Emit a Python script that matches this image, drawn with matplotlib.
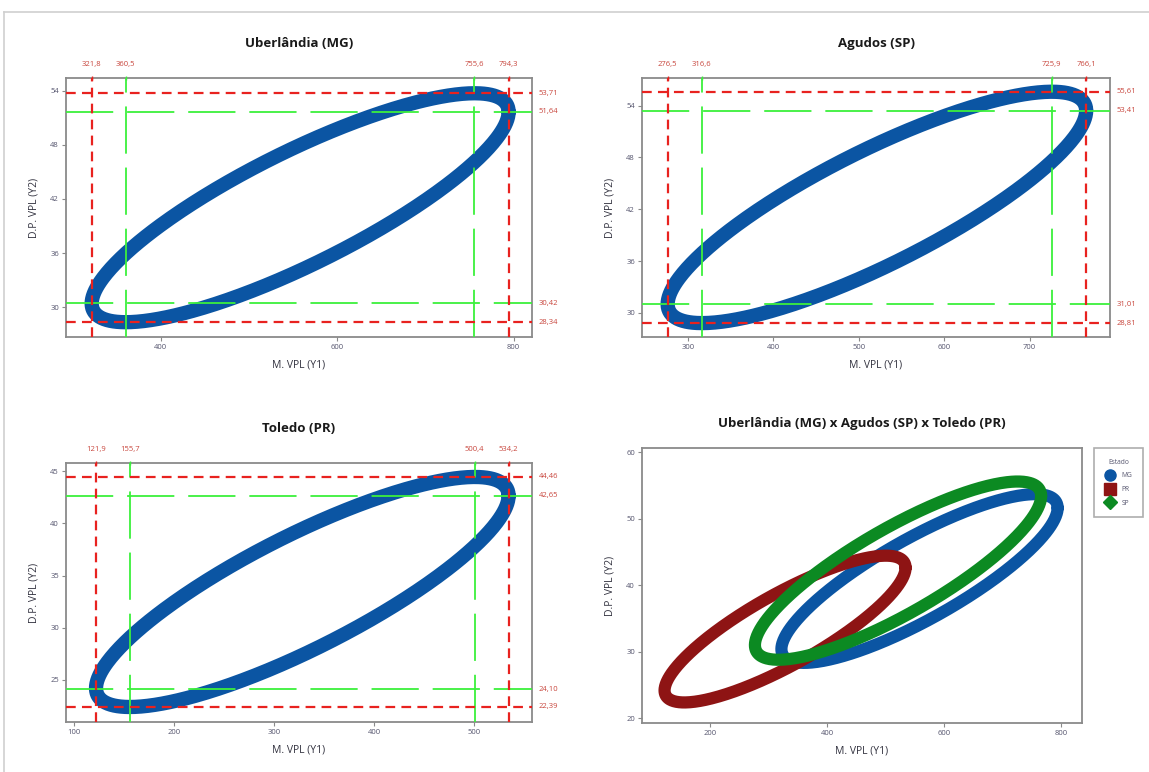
import numpy as np
import matplotlib
matplotlib.use("Agg")
import matplotlib.pyplot as plt
from matplotlib.lines import Line2D

plt.rcParams['font.family'] = ['Open Sans', 'DejaVu Sans']
plt.rcParams['lines.scale_dashes'] = False

# ---------------- data ----------------
titles = ["Uberlândia (MG)", "Agudos (SP)", "Toledo (PR)"]
states = ["MG", "SP", "PR"]
x_min = [321.8, 276.5, 121.9]
x_max = [794.3, 766.1, 534.2]
x_at_ymin = [360.5, 316.6, 155.7]
x_at_ymax = [755.6, 725.9, 500.4]
y_min = [28.34, 28.81, 22.39]
y_max = [53.71, 55.61, 44.46]
y_at_xmin = [30.42, 31.01, 24.10]
y_at_xmax = [51.64, 53.41, 42.65]

xticks = [[400, 600, 800], [300, 400, 500, 600, 700], [100, 200, 300, 400, 500]]
yticks = [[30, 36, 42, 48, 54], [30, 36, 42, 48, 54], [25, 30, 35, 40, 45]]
combo_xticks = [200, 400, 600, 800]
combo_yticks = [20, 30, 40, 50, 60]
combo_title = "Uberlândia (MG) x Agudos (SP) x Toledo (PR)"
legend_title = "Estado"
legend_states = ["MG", "PR", "SP"]

xlabel = "M. VPL (Y1)"
ylabel = "D.P. VPL (Y2)"

# ---------------- styling ----------------
state_colors = {"MG": "#0b55a3", "PR": "#8e1414", "SP": "#0c8a22"}
state_markers = {"MG": "o", "PR": "s", "SP": "D"}
SINGLE_COLOR = "#0b55a3"
RED = "#e8221f"
GREEN = "#3cf03c"
ANN = "#c8453c"
TICKC = "#55556e"
FRAME = "#8a8a8a"

W, H = 1149, 772
fig = plt.figure(figsize=(W / 100, H / 100), dpi=100)

def rect(l, t, r, b):
    return [l / W, 1 - b / H, (r - l) / W, (b - t) / H]

panel_rects = [rect(66, 78, 532, 337), rect(642, 78, 1110, 337), rect(66, 463, 532, 722)]
panel_lims = [((292.7, 820.8), (26.7, 55.4)),
              ((246.5, 794.0), (27.2, 57.2)),
              ((91.9, 557.6), (20.95, 45.8))]
combo_rect = rect(642, 448, 1082, 723)
combo_lims = ((83.3, 836.0), (19.3, 60.65))


def ellipse(i, n=500):
    cx = (x_min[i] + x_max[i]) / 2
    cy = (y_min[i] + y_max[i]) / 2
    A = (x_max[i] - x_min[i]) / 2
    B = (y_max[i] - y_min[i]) / 2
    c1 = (x_at_ymax[i] - cx) / A
    c2 = (y_at_xmax[i] - cy) / B
    c = np.clip((c1 + c2) / 2, -1, 1)
    phi = np.arccos(c)
    t = np.linspace(0, 2 * np.pi, n)
    return cx + A * np.cos(t), cy + B * np.cos(t + phi)


def style_axes(ax):
    for s in ax.spines.values():
        s.set_color(FRAME)
        s.set_linewidth(1.3)
    ax.tick_params(direction='out', length=3, width=0.8, color=FRAME,
                   labelsize=5.5, labelcolor=TICKC, pad=2)
    ax.set_xlabel(xlabel, fontsize=7.5, color="#333340", labelpad=6)
    ax.set_ylabel(ylabel, fontsize=7.5, color="#333340", labelpad=8)


def fmt(v, d):
    return f"{v:.{d}f}".replace('.', ',')


for i in range(3):
    ax = fig.add_axes(panel_rects[i])
    ex, ey = ellipse(i)
    ax.plot(ex, ey, color=SINGLE_COLOR, lw=10.3,
            solid_capstyle='round', solid_joinstyle='round', zorder=2)
    # reference lines
    for xv in (x_at_ymin[i], x_at_ymax[i]):
        ax.axvline(xv, color=GREEN, lw=1.3, linestyle=(0, (34, 10)), zorder=3)
    for yv in (y_at_xmin[i], y_at_xmax[i]):
        ax.axhline(yv, color=GREEN, lw=1.3, linestyle=(0, (34, 10)), zorder=3)
    for xv in (x_min[i], x_max[i]):
        ax.axvline(xv, color=RED, lw=1.6, linestyle=(0, (7, 4.5)), zorder=4)
    for yv in (y_min[i], y_max[i]):
        ax.axhline(yv, color=RED, lw=1.6, linestyle=(0, (7, 4.5)), zorder=4)
    ax.set_xlim(*panel_lims[i][0])
    ax.set_ylim(*panel_lims[i][1])
    ax.set_xticks(xticks[i])
    ax.set_yticks(yticks[i])
    style_axes(ax)
    ax.set_title(titles[i], fontsize=9.5, fontweight='bold', pad=22, color="#1a1a1a")
    # top annotations
    for xv in (x_min[i], x_at_ymin[i], x_at_ymax[i], x_max[i]):
        ax.annotate(fmt(xv, 1), xy=(xv, 1), xycoords=('data', 'axes fraction'),
                    xytext=(0, 7), textcoords='offset points', ha='center',
                    va='bottom', fontsize=5.5, color=ANN)
        ax.plot([xv], [1], transform=ax.get_xaxis_transform(), marker='|',
                ms=3, color=GREEN if xv in (x_at_ymin[i], x_at_ymax[i]) else RED,
                clip_on=False, zorder=5)
    # right annotations
    for yv in (y_min[i], y_at_xmin[i], y_at_xmax[i], y_max[i]):
        ax.annotate(fmt(yv, 2), xy=(1, yv), xycoords=('axes fraction', 'data'),
                    xytext=(5, 0), textcoords='offset points', ha='left',
                    va='center', fontsize=5.5, color=ANN)

# combined panel
ax4 = fig.add_axes(combo_rect)
for s in ["MG", "PR", "SP"]:
    i = states.index(s)
    ex, ey = ellipse(i)
    ax4.plot(ex, ey, color=state_colors[s], lw=8.8,
             solid_capstyle='round', solid_joinstyle='round')
ax4.set_xlim(*combo_lims[0])
ax4.set_ylim(*combo_lims[1])
ax4.set_xticks(combo_xticks)
ax4.set_yticks(combo_yticks)
style_axes(ax4)
ax4.set_title(combo_title, fontsize=9.5, fontweight='bold', pad=15, color="#1a1a1a")

handles = [Line2D([], [], linestyle='none', marker=state_markers[s],
                  markersize=8 if s != "SP" else 7.5, color=state_colors[s])
           for s in legend_states]
leg = fig.legend(handles, legend_states, title=legend_title,
                 loc='upper left', bbox_to_anchor=(1094 / W, 1 - 448 / H),
                 fontsize=4.8, title_fontsize=4.8, frameon=True, fancybox=False,
                 handletextpad=0.9, borderpad=1.6, labelspacing=1.0,
                 handlelength=1.6, borderaxespad=0)
leg.get_frame().set_edgecolor("#9a9a9a")
leg.get_frame().set_linewidth(1.2)
for t in leg.get_texts():
    t.set_color("#55556e")
leg.get_title().set_color("#55556e")

# screenshot frame lines
fig.add_artist(Line2D([4 / W, 1], [1 - 12 / H, 1 - 12 / H], color="#cfcfcf", lw=1.2))
fig.add_artist(Line2D([4 / W, 4 / W], [0, 1 - 12 / H], color="#cfcfcf", lw=1.2))

fig.savefig("out.png", dpi=100)
